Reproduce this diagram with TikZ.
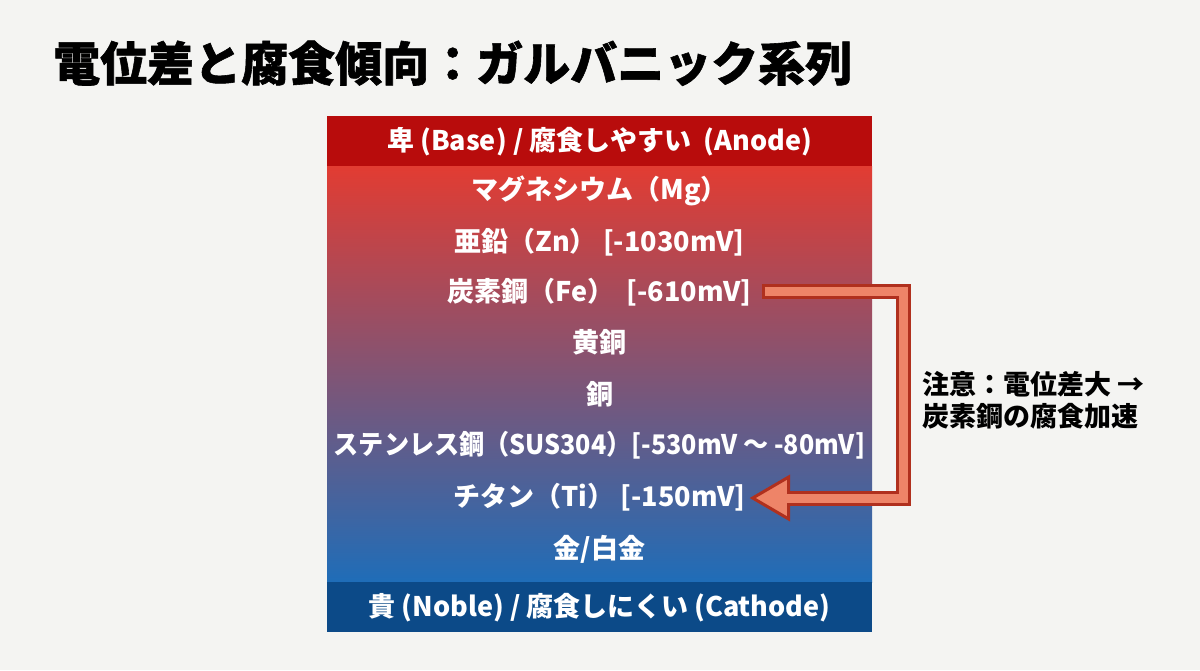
\documentclass[tikz,border=0pt]{standalone}
\usepackage{graphicx}
\usepackage{fontspec}
\setmainfont{Noto Sans CJK JP}
\newfontfamily\titlefont{Noto Sans CJK JP}[BoldFeatures={FakeBold=1.2}]
\usetikzlibrary{calc}
\definecolor{bg}{HTML}{F4F4F2}
\definecolor{hdr}{HTML}{B80C0C}
\definecolor{ftr}{HTML}{0C4A88}
\definecolor{gtop}{HTML}{E23C32}
\definecolor{gmid}{HTML}{8C4A70}
\definecolor{gbot}{HTML}{1F6DB8}
\definecolor{arrdark}{HTML}{B0301E}
\definecolor{arrfill}{HTML}{EE8468}
\begin{document}
\begin{tikzpicture}[x=1pt,y=-1pt,
  item/.style={text=white,font=\bfseries\fontsize{27}{30}\selectfont,text height=21pt,text depth=4pt,inner sep=0pt},
  band/.style={text=white,font=\bfseries\fontsize{27}{30}\selectfont,text height=21pt,text depth=4pt,inner sep=0pt},
  outer/.style={line width=15pt,arrdark},
  inner/.style={line width=9pt,arrfill},
  headtri/.style={fill=arrfill,draw=arrdark,line width=3pt,line join=miter}]
\fill[bg] (0,0) rectangle (1200,670);
\useasboundingbox (0,0) rectangle (1200,670);
\node[anchor=west,font=\titlefont\bfseries\fontsize{47}{50}\selectfont,inner sep=0pt,text height=38pt,text depth=6pt] (title) at (53,65) {電位差と腐食傾向：ガルバニック系列};
\shade[top color=gtop,middle color=gmid,bottom color=gbot] (327,166) rectangle (872,582);
\fill[hdr] (327,116) rectangle (872,166);
\fill[ftr] (327,582) rectangle (872,632);
\node[band] (hd) at (599.5,142) {卑 (Base) / 腐食しやすい\ \ (Anode)};
\node[band] (ft) at (599.5,608) {貴 (Noble) / 腐食しにくい (Cathode)};
\node[item] (mg) at (599.5,191) {マグネシウム（Mg）};
\node[item] (zn) at (599.5,243) {亜鉛（Zn）\ [-1030mV]};
\node[item] (fe) at (599.5,293) {炭素鋼（Fe）\ \ [-610mV]};
\node[item] (bs) at (599.5,344) {黄銅};
\node[item] (cu) at (599.5,396) {銅};
\node[item] (sus) at (599.5,446) {\scalebox{0.93}[1]{ステンレス鋼（SUS304）[-530mV 〜 -80mV]}};
\node[item] (ti) at (599.5,498) {チタン（Ti）\ [-150mV]};
\node[item] (au) at (599.5,550) {金/白金};
\coordinate (s) at ($(fe.east)+(10,-2)$);
\coordinate (t) at ($(ti.east)+(7,0)$);
\coordinate (vx) at (903,0);
\coordinate (hb) at ($(t)+(36,0)$);
\draw[outer] (s) -- (s -| vx) -- (t -| vx) -- (hb);
\filldraw[headtri] (t) -- ($(hb)+(0,-21)$) -- ($(hb)+(0,21)$) -- cycle;
\draw[inner] ($(s)+(3,0)$) -- (s -| vx) -- (t -| vx) -- ($(hb)+(-3,0)$);
\node[anchor=west,align=left,font=\bfseries\fontsize{27}{32}\selectfont,inner sep=0pt] (note) at (922,400) {注意：電位差大 →\\炭素鋼の腐食加速};
\end{tikzpicture}
\end{document}
